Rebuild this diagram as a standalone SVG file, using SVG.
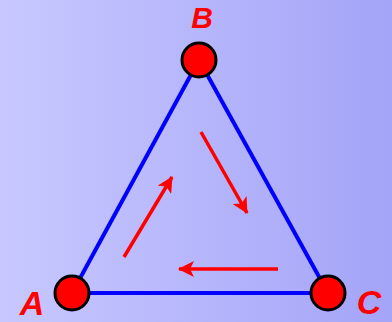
<svg xmlns="http://www.w3.org/2000/svg" width="392" height="322" viewBox="0 0 392 322">
<defs>
<linearGradient id="bg" x1="0" y1="0" x2="1" y2="0">
<stop offset="0" stop-color="#c8c8ff"/>
<stop offset="1" stop-color="#a4a4f8"/>
</linearGradient>
<marker id="ah" markerUnits="userSpaceOnUse" markerWidth="18" markerHeight="16" refX="15" refY="8" orient="auto">
<path d="M0,0 L16,8 L0,16 L4,8 Z" fill="#ff0000"/>
</marker>
<style>
.edge{stroke:#0000ff;stroke-width:4;fill:none}
.arr{stroke:#ff0000;stroke-width:3.5;fill:none;marker-end:url(#ah)}
.node{fill:#ff0000;stroke:#000;stroke-width:3}
.lbl{font-family:"Liberation Sans",Arial,sans-serif;font-weight:bold;font-style:italic;fill:#ff0000}
</style>
</defs>
<rect width="392" height="322" fill="url(#bg)"/>
<g id="connectors">
<line class="edge" x1="72" y1="293" x2="199" y2="60"/>
<line class="edge" x1="199" y1="60" x2="328" y2="293"/>
<line class="edge" x1="72" y1="293" x2="328" y2="293"/>
<line class="arr" x1="124" y1="257" x2="172" y2="177"/>
<line class="arr" x1="201" y1="132" x2="247" y2="213"/>
<line class="arr" x1="278" y1="269" x2="179" y2="269"/>
</g>
<g id="B">
<circle class="node" cx="199" cy="60" r="17"/>
<text class="lbl" x="202" y="28" font-size="30" text-anchor="middle">B</text>
</g>
<g id="A">
<circle class="node" cx="72" cy="293" r="17"/>
<text class="lbl" x="32" y="315" font-size="34" text-anchor="middle">A</text>
</g>
<g id="C">
<circle class="node" cx="328" cy="293" r="17"/>
<text class="lbl" x="369" y="314" font-size="34" text-anchor="middle">C</text>
</g>
</svg>
